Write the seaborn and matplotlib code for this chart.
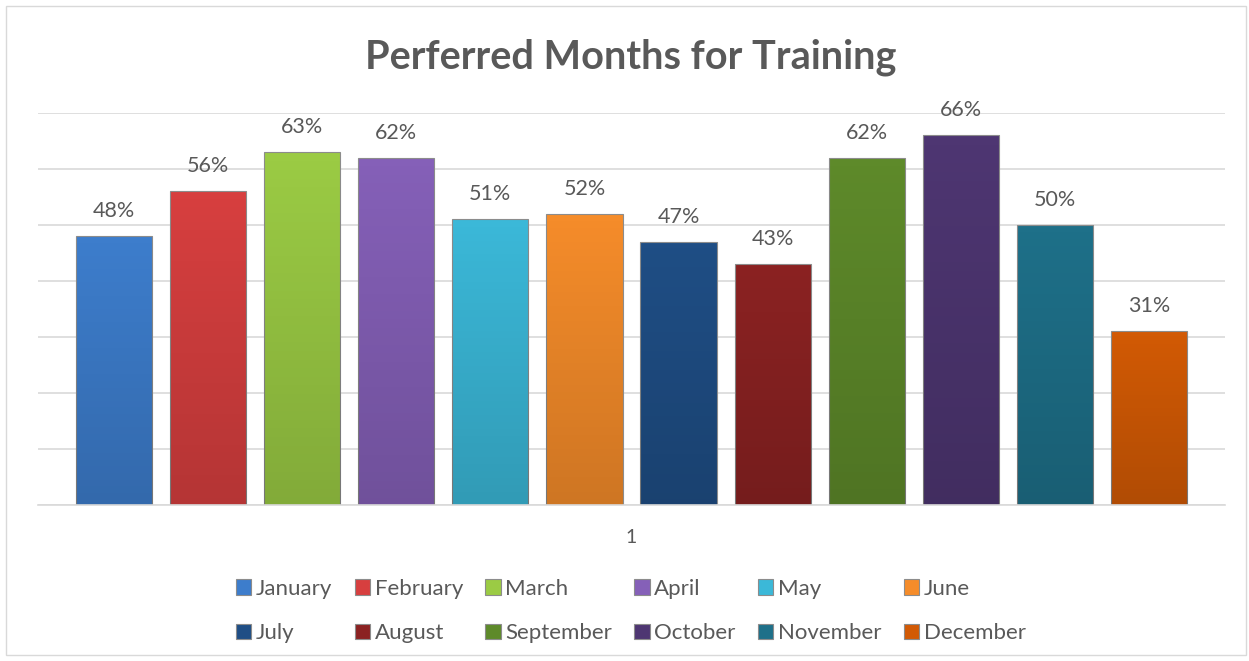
import matplotlib
matplotlib.use("Agg")
import matplotlib.pyplot as plt
from matplotlib.patches import Rectangle
from matplotlib.colors import LinearSegmentedColormap
import seaborn as sns
import pandas as pd
import numpy as np

months = ["January", "February", "March", "April", "May", "June",
          "July", "August", "September", "October", "November", "December"]
values = [48, 56, 63, 62, 51, 52, 47, 43, 62, 66, 50, 31]
category = "1"
colors = ["#3D7DCC", "#D73F3F", "#9BCB44", "#8560B8", "#3BB8D8", "#F58C2A",
          "#1F4E85", "#8B2222", "#5E8A2A", "#4E3672", "#1E7089", "#D25A05"]
title = "Perferred Months for Training"

sns.set_theme(style="white")
plt.rcParams['font.family'] = ['Lato', 'DejaVu Sans']
TXT = "#595959"

fig = plt.figure(figsize=(12.49, 6.61), dpi=100)
W, H = 1249, 661
ax = fig.add_axes([38 / W, (H - 505) / H, (1225 - 38) / W, (505 - 113) / H])

df = pd.DataFrame({"cat": [category] * len(months), "month": months,
                   "value": [v / 100 for v in values]})
sns.barplot(data=df, x="cat", y="value", hue="month", hue_order=months,
            palette=colors, width=0.951, gap=0.19, ax=ax,
            edgecolor="#8C8C8C", linewidth=0.8, saturation=1)

ax.set_xlim(-0.5, 0.5)
ax.set_ylim(0, 0.7)

# mild shading: slightly darker toward the bottom of each bar
shade = LinearSegmentedColormap.from_list(
    "shade", [(0, 0, 0, 0.16), (0, 0, 0, 0.0)])
grad = np.linspace(0, 1, 256).reshape(-1, 1)
for cont in ax.containers:
    for b in cont:
        x0, y0 = b.get_x(), b.get_y()
        im = ax.imshow(grad, cmap=shade, vmin=0, vmax=1, origin="lower",
                       extent=(x0, x0 + b.get_width(), y0, y0 + b.get_height()),
                       aspect="auto", zorder=b.get_zorder() + 0.1,
                       interpolation="bilinear")
        im.set_clip_path(b)
ax.set_xlim(-0.5, 0.5)
ax.set_ylim(0, 0.7)

for cont in ax.containers:
    ax.bar_label(cont, labels=[f"{b.get_height()*100:.0f}%" for b in cont],
                 padding=11, fontsize=15.5, color=TXT)

ax.set_yticks(np.arange(0, 0.71, 0.1))
ax.set_yticklabels([])
ax.yaxis.grid(True, color="#D9D9D9", linewidth=1.2)
ax.set_axisbelow(True)
for s in ["left", "right", "top"]:
    ax.spines[s].set_visible(False)
ax.spines["bottom"].set_color("#D9D9D9")
ax.spines["bottom"].set_linewidth(1.2)
ax.tick_params(axis="both", length=0)
ax.tick_params(axis="x", pad=17, labelsize=14, labelcolor=TXT)
ax.set_xlabel("")
ax.set_ylabel("")

handles, labels = ax.get_legend_handles_labels()
ax.get_legend().remove()
order = [0, 6, 1, 7, 2, 8, 3, 9, 4, 10, 5, 11]
fig.legend([handles[i] for i in order], [labels[i] for i in order],
           ncol=6, loc="center", bbox_to_anchor=(0.505, (H - 611) / H),
           frameon=False, fontsize=16, labelcolor=TXT,
           handlelength=0.7, handleheight=0.7, handletextpad=0.2,
           columnspacing=1.0, labelspacing=1.1)

fig.text(631 / W, (H - 57) / H, title, ha="center", va="center",
         fontsize=28.5, fontweight="bold", color=TXT)

fig.patches.append(Rectangle((6 / W, 6 / H), (1246 - 6) / W, (655 - 6) / H,
                             transform=fig.transFigure, fill=False,
                             edgecolor="#D9D9D9", linewidth=1))

fig.savefig("out.png", dpi=100)
